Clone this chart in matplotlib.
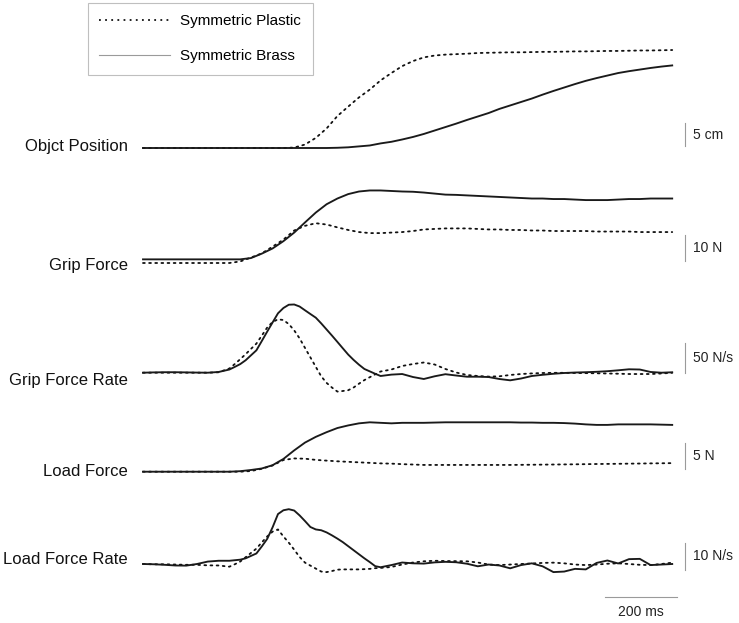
import numpy as np
import matplotlib.pyplot as plt
from matplotlib.lines import Line2D

plt.rcParams['font.family'] = ['Liberation Sans', 'DejaVu Sans']

# time base (ms): 30 ms steps, 15 ms steps through the rate peaks
time_ms = np.arange(0, 1500, 30)
time_rate_ms = np.concatenate([np.arange(0, 240, 30), np.arange(240, 661, 15),
                               np.arange(690, 1500, 30)])

# object position (cm)
position_plastic = [0] * 14 + [
    0.1, 0.75, 2.2, 4.25, 6.95, 9.0, 11.0, 12.7, 14.7, 16.3, 17.8, 18.9,
    19.7, 20.1, 20.3, 20.4, 20.5, 20.65, 20.7, 20.75, 20.8, 20.8, 20.85, 20.9,
    20.9, 20.95, 21.0, 21.0, 21.05, 21.1, 21.1, 21.15, 21.2, 21.2, 21.25, 21.3]
position_brass = [0] * 18 + [
    0.05, 0.15, 0.35, 0.55, 1.0, 1.35, 1.85, 2.4, 3.05, 3.8, 4.55, 5.3,
    6.1, 6.85, 7.6, 8.5, 9.25, 10.0, 10.75, 11.6, 12.4, 13.15, 13.9, 14.6,
    15.2, 15.75, 16.3, 16.7, 17.05, 17.4, 17.7, 17.95]

# grip force (N, relative)
grip_plastic = [0] * 9 + [
    0.6, 2.1, 3.7, 6.3, 9.0, 12.5, 14.3, 15.3, 14.8, 13.7, 12.7, 11.9,
    11.5, 11.5, 11.7, 11.9, 12.3, 12.9, 13.1, 13.3, 13.3, 13.3, 13.1, 12.9,
    12.9, 12.7, 12.7, 12.5, 12.5, 12.3, 12.3, 12.3, 12.3, 12.1, 12.1, 12.1,
    12.1, 11.9, 11.9, 11.9, 11.9]
grip_brass = [1.4] * 10 + [
    1.9, 3.6, 5.6, 8.4, 11.7, 15.6, 19.4, 22.6, 24.8, 26.5, 27.5, 27.9,
    27.9, 27.7, 27.5, 27.4, 27.1, 26.7, 26.3, 26.2, 26.0, 25.8, 25.6, 25.4,
    25.2, 25.0, 24.8, 24.8, 24.6, 24.6, 24.4, 24.2, 24.2, 24.2, 24.4, 24.6,
    24.6, 24.8, 24.8, 24.8]

# grip force rate (N/s), sampled on time_rate_ms
grip_rate_plastic = [
    0, 0, 0, 0, 0, 0, 0, 0.7,
    7, 14.5, 22.5, 30.8, 39.7, 48.5, 61.8, 75.3, 84.5, 89,
    87.8, 81, 70.5, 57.2, 41.3, 25.5, 9.7, -6, -17, -24.8,
    -31.5, -30.5, -29.2, -24.7, -18.3, -12.3, -7.5, -2.7, 2,
    5.3, 11.2, 14.5, 17, 13.7, 6.2, 0.3, -3.8, -5.5, -6.5,
    -6, -3.8, -2.2, -1.2, -0.5, -0.2, -0.2, -0.5, -0.7, -1,
    -1.3, -1.7, -2.2, -2.2, -2.2, -1.3, -0.2]
grip_rate_brass = [
    0, 0.5, 0.8, 0.8, 0.5, 0.2, 0, 1.2,
    5.3, 9.7, 14.3, 20.7, 29, 37.3, 52.8, 68.5, 83.8, 99,
    107.8, 113.3, 113.7, 110.3, 104, 97.8, 91.7, 82.2, 72, 61.8,
    51.3, 40.7, 30.2, 21.3, 13.3, 6.2, 2.2, -1.8, -5.5,
    -3.2, -2.2, -7.2, -10.5, -6, -2.5, -4.7, -6.7, -6.7, -7.2,
    -10.5, -12.7, -9.7, -5.5, -3.5, -1.8, -0.5, 0.3, 0.8, 1.5,
    2.5, 4, 5.7, 5.3, 1.2, 0, 0.7]

# load force (N)
load_plastic = [0] * 10 + [
    0.13, 0.56, 1.2, 2.25, 2.55, 2.5, 2.27, 2.13, 2.0, 1.9, 1.8, 1.7,
    1.6, 1.55, 1.45, 1.38, 1.3, 1.3, 1.3, 1.3, 1.3, 1.3, 1.3, 1.3,
    1.3, 1.32, 1.34, 1.36, 1.38, 1.4, 1.42, 1.45, 1.48, 1.5, 1.52, 1.55,
    1.57, 1.6, 1.62, 1.65]
load_brass = [0] * 9 + [
    0.1, 0.33, 0.62, 1.25, 2.45, 4.1, 5.6, 6.7, 7.6, 8.4, 8.9, 9.3,
    9.5, 9.4, 9.3, 9.4, 9.4, 9.4, 9.45, 9.5, 9.5, 9.5, 9.5, 9.5,
    9.5, 9.5, 9.45, 9.45, 9.4, 9.4, 9.35, 9.25, 9.1, 9.0, 9.0, 9.1,
    9.1, 9.1, 9.1, 9.05, 9.0]

# load force rate (N/s), sampled on time_rate_ms
load_rate_plastic = [
    0, -0.1, -0.1, -0.2, -0.3, -0.3, -0.5, -0.55,
    -1.0, -0.1, 0.9, 2.5, 4.1, 5.7, 8.0, 10.2, 12.0, 12.8,
    10.2, 7.9, 5.3, 2.6, 0.5, -0.6, -1.7, -2.8, -3.0, -2.6,
    -2.1, -2.0, -2.0, -2.0, -2.0, -1.9, -1.8, -1.55, -1.45,
    -1.1, -0.2, 0.55, 1.0, 1.2, 1.1, 1.05, 1.0, 0.55, -0.2,
    -0.4, -0.2, 0, 0.2, 0.4, 0.5, 0.25, -0.2, -0.4, -0.2,
    0.1, 0.25, 0, -0.3, -0.4, 0, 0.5]
load_rate_brass = [
    0, -0.1, -0.3, -0.55, -0.6, 0, 0.9, 1.2,
    1.2, 1.4, 1.6, 2.1, 3.0, 3.9, 6.5, 9.3, 13.6, 18.5,
    19.9, 20.3, 19.8, 18, 15.9, 13.7, 12.8, 12.5, 11.7, 10.6,
    9.4, 8.1, 6.6, 5.1, 3.6, 2.1, 0.7, -0.8, -1.2,
    -0.4, 0.55, 0.25, 0.15, 0.6, 0.8, 0.65, 0.1, -0.85, -0.2,
    -0.55, -1.6, -0.4, 0.25, -0.85, -3.0, -2.8, -1.8, -2.0, 0.4,
    1.3, 0.2, 1.8, 1.9, -0.4, -0.2, 0]

panel_names = ["Objct Position", "Grip Force", "Grip Force Rate",
               "Load Force", "Load Force Rate"]
scale_labels = ["5 cm", "10 N", "50 N/s", "5 N", "10 N/s"]
scale_sizes = [5, 10, 50, 5, 10]
panel_times = [time_ms, time_ms, time_rate_ms, time_ms, time_rate_ms]
plastic_series = [position_plastic, grip_plastic, grip_rate_plastic,
                  load_plastic, load_rate_plastic]
brass_series = [position_brass, grip_brass, grip_rate_brass,
                load_brass, load_rate_brass]

# layout (pixels of the 739x623 canvas)
W, H = 739, 623
x0_px = 143          # where t = 0 sits
px_per_ms = 0.36
baseline_px = [148, 263, 372.7, 471.7, 564]
px_per_unit = [4.6, 2.6, 0.6, 5.2, 2.7]
bar_bottom = [0.43, 0.77, -0.5, 0.5, -2.2]
name_y_px = [146, 266, 380, 472, 560]
name_right_px = 128
bar_t = (685 - x0_px) / px_per_ms
bar_text_t = (693 - x0_px) / px_per_ms

fig = plt.figure(figsize=(W / 100, H / 100), dpi=100)
xlim = (-x0_px / px_per_ms, (W - x0_px) / px_per_ms)

for i in range(5):
    ax = fig.add_axes([0, 0, 1, 1], facecolor='none')
    ax.set_xlim(*xlim)
    ax.set_ylim(-(H - baseline_px[i]) / px_per_unit[i], baseline_px[i] / px_per_unit[i])
    ax.axis('off')
    ax.plot(panel_times[i], plastic_series[i], color='#111111', lw=1.3,
            ls=(0, (1, 2.4)), dash_capstyle='round')
    ax.plot(panel_times[i], brass_series[i], color='#1a1a1a', lw=1.35,
            solid_joinstyle='round')
    lo = bar_bottom[i]
    ax.plot([bar_t, bar_t], [lo, lo + scale_sizes[i]], color='#9a9a9a', lw=0.8)
    ax.text(bar_text_t, lo + scale_sizes[i] / 2, scale_labels[i],
            ha='left', va='center', fontsize=10, color='#222222')
    fig.text(name_right_px / W, 1 - name_y_px[i] / H, panel_names[i],
             ha='right', va='center', fontsize=12, color='#111111')
    if i == 4:
        # 200 ms time bar under the last trace
        t_end = (677 - x0_px) / px_per_ms
        y_bar = (baseline_px[i] - 597) / px_per_unit[i]
        ax.plot([t_end - 200, t_end], [y_bar, y_bar], color='#9a9a9a', lw=0.8)
        ax.text(t_end - 100, (baseline_px[i] - 612) / px_per_unit[i], "200 ms",
                ha='center', va='center', fontsize=10, color='#222222')

handles = [Line2D([], [], color='#111111', lw=1.3, ls=(0, (1, 2.4))),
           Line2D([], [], color='#9a9a9a', lw=0.8)]
leg = fig.legend(handles, ["Symmetric Plastic", "Symmetric Brass"],
                 loc='upper left', bbox_to_anchor=(88 / W, 1 - 3 / H),
                 frameon=True, fancybox=False, edgecolor='#b0b0b0',
                 fontsize=11, handlelength=4.6, handletextpad=0.7,
                 labelspacing=1.35, borderpad=0.75, borderaxespad=0)
leg.get_frame().set_linewidth(0.8)

fig.savefig('out.png', dpi=100)
